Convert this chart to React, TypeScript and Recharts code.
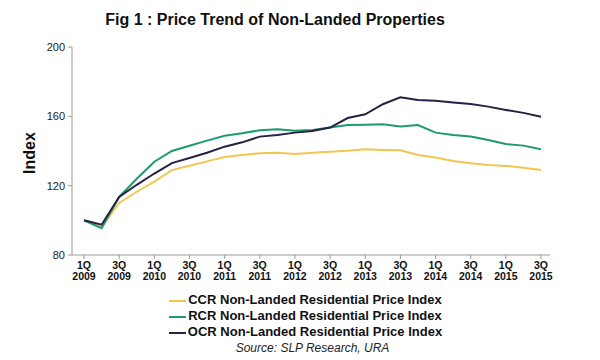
import { LineChart, Line, XAxis, YAxis, Legend } from "recharts";

const quarters = [
  "1Q 2009", "2Q 2009", "3Q 2009", "4Q 2009",
  "1Q 2010", "2Q 2010", "3Q 2010", "4Q 2010",
  "1Q 2011", "2Q 2011", "3Q 2011", "4Q 2011",
  "1Q 2012", "2Q 2012", "3Q 2012", "4Q 2012",
  "1Q 2013", "2Q 2013", "3Q 2013", "4Q 2013",
  "1Q 2014", "2Q 2014", "3Q 2014", "4Q 2014",
  "1Q 2015", "2Q 2015", "3Q 2015",
];

const ccr = [
  100, 96, 110, 116.5, 122.3, 129, 131.5, 134, 136.5, 137.7, 138.7, 139,
  138.3, 139, 139.6, 140.2, 141, 140.6, 140.4, 137.7, 136.2, 134.2, 132.9,
  131.9, 131.4, 130.4, 129,
];
const rcr = [
  100, 95.5, 113.5, 124, 133.8, 140, 143, 146, 148.8, 150.2, 152, 152.5,
  151.7, 152.1, 153.5, 155, 155.2, 155.4, 154.2, 155, 150.6, 149.2, 148.3,
  146.4, 144, 143.1, 141,
];
const ocr = [
  100, 97.5, 113.5, 120.5, 127, 133, 136, 139, 142.5, 145, 148.3, 149.2,
  150.6, 151.5, 153.5, 159, 161.2, 167, 171, 169.4, 169, 168, 167.1, 165.6,
  163.7, 162, 159.8,
];

const yTicks = [80, 120, 160, 200];

const series = [
  { key: "ccr", name: "CCR Non-Landed Residential Price Index", color: "#F2C650" },
  { key: "rcr", name: "RCR Non-Landed Residential Price Index", color: "#1E9A6E" },
  { key: "ocr", name: "OCR Non-Landed Residential Price Index", color: "#2A1F45" },
];

const data = quarters.map((q, i) => ({ q, ccr: ccr[i], rcr: rcr[i], ocr: ocr[i] }));

const font = "'Liberation Sans', Arial, sans-serif";

function QuarterTick(props: any) {
  const { x, y, payload } = props;
  const [qq, yr] = String(payload.value).split(" ");
  return (
    <text x={x} y={y} textAnchor="middle" fontFamily={font} fontSize={10.5} fontWeight="bold" fill="#111">
      <tspan x={x} dy={7.5}>{qq}</tspan>
      <tspan x={x} dy={11}>{yr}</tspan>
    </text>
  );
}

function LegendBox() {
  return (
    <div style={{ height: 75, paddingTop: 7, boxSizing: "border-box", fontFamily: font, textAlign: "center" }}>
      {series.map((s) => (
        <div key={s.key} style={{ height: 16, lineHeight: "16px", fontSize: 13, fontWeight: "bold", color: "#111", marginLeft: 61 }}>
          <span style={{ display: "inline-block", width: 17, height: 2, background: s.color, verticalAlign: "middle", marginRight: 2 }} />
          {s.name}
        </div>
      ))}
      <div style={{ height: 16, lineHeight: "16px", fontSize: 12, fontStyle: "italic", color: "#222", marginLeft: 75 }}>
        Source: SLP Research, URA
      </div>
    </div>
  );
}

export default function App() {
  return (
    <div style={{ position: "absolute", left: 0, top: 0, width: 600, height: 360, background: "#fff" }}>
      <div
        style={{
          position: "absolute", left: 0, width: 550, top: 11, textAlign: "center",
          fontFamily: font, fontSize: 16, fontWeight: "bold", color: "#111",
        }}
      >
        Fig 1 : Price Trend of Non-Landed Properties
      </div>
      <div
        style={{
          position: "absolute", left: 30, top: 153, transform: "translate(-50%, -50%) rotate(-90deg)",
          fontFamily: font, fontSize: 16, fontWeight: "bold", color: "#111",
        }}
      >
        Index
      </div>
      <LineChart width={600} height={360} data={data} margin={{ top: 47, right: 50, bottom: 0, left: 0 }}>
        <XAxis
          dataKey="q"
          interval={1}
          height={30}
          tick={<QuarterTick />}
          tickSize={4}
          tickMargin={2}
          padding={{ left: 12, right: 9 }}
          stroke="#9a9a9a"
        />
        <YAxis
          width={72}
          domain={[80, 200]}
          ticks={yTicks}
          tickSize={4}
          tickMargin={3}
          stroke="#9a9a9a"
          tick={{ fill: "#222", fontSize: 11, fontFamily: font }}
        />
        <Legend verticalAlign="bottom" content={<LegendBox />} />
        {series.map((s) => (
          <Line
            key={s.key}
            type="linear"
            dataKey={s.key}
            name={s.name}
            stroke={s.color}
            strokeWidth={2}
            dot={false}
            isAnimationActive={false}
          />
        ))}
      </LineChart>
    </div>
  );
}
